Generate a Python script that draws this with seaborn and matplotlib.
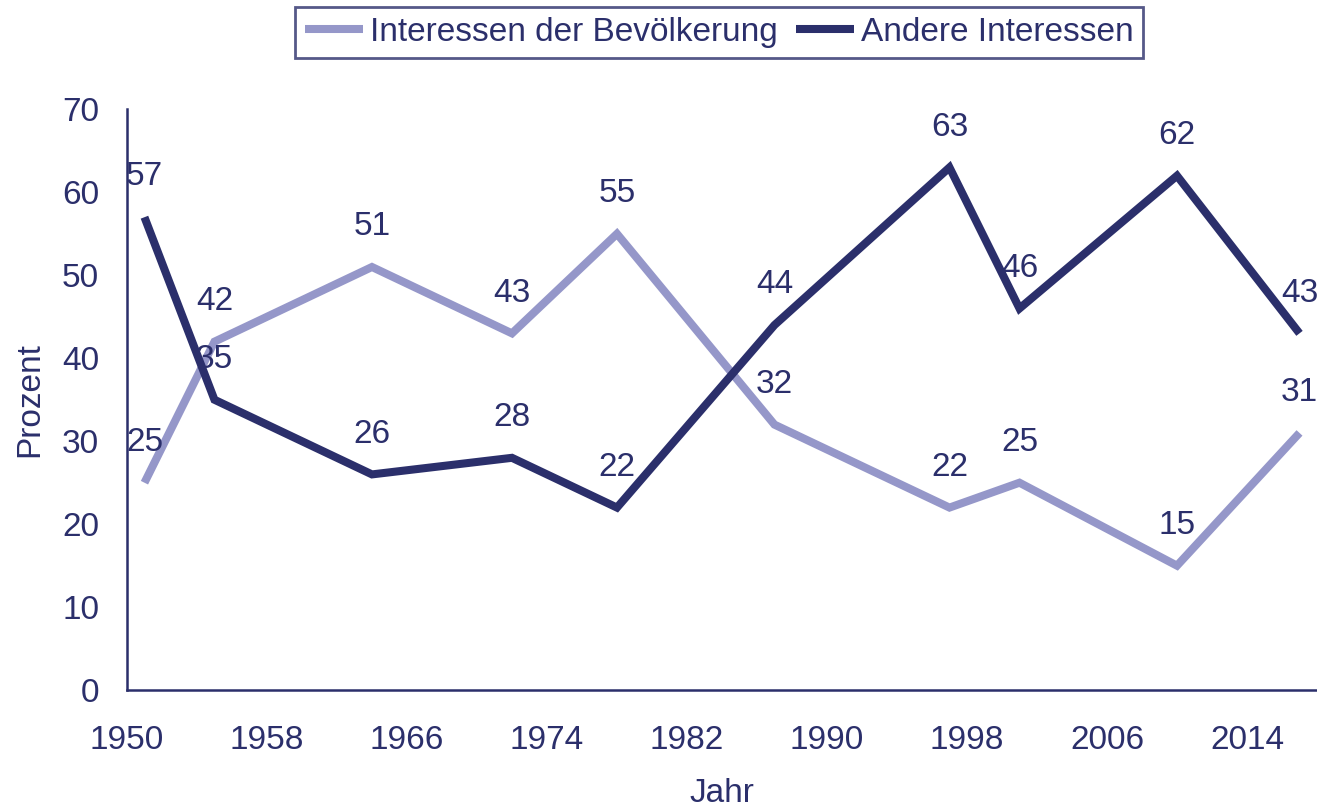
import pandas as pd
import matplotlib
matplotlib.use("Agg")
import matplotlib.pyplot as plt
import seaborn as sns

# Werte
years = [1951, 1955, 1964, 1972, 1978, 1987, 1997, 2001, 2010, 2017]
bevoelkerung = [25, 42, 51, 43, 55, 32, 22, 25, 15, 31]
andere = [57, 35, 26, 28, 22, 44, 63, 46, 62, 43]
series_names = ["Interessen der Bevölkerung", "Andere Interessen"]
x_ticks = [1950, 1958, 1966, 1974, 1982, 1990, 1998, 2006, 2014]
y_ticks = [0, 10, 20, 30, 40, 50, 60, 70]

navy = "#2b2f6b"
light = "#9597c9"
fs = 24

df = pd.DataFrame({
    "Jahr": years * 2,
    "Prozent": bevoelkerung + andere,
    "Serie": [series_names[0]] * len(years) + [series_names[1]] * len(years),
})

sns.set_style("white")
plt.rcParams["font.family"] = ["Liberation Sans", "DejaVu Sans"]
plt.rcParams["text.color"] = navy
plt.rcParams["axes.labelcolor"] = navy

fig = plt.figure(figsize=(13.17, 8.1), dpi=100)
ax = fig.add_axes([0.0964, 0.148, 0.9036, 0.717])

sns.lineplot(data=df, x="Jahr", y="Prozent", hue="Serie",
             palette={series_names[0]: light, series_names[1]: navy},
             linewidth=5.8, ax=ax, legend=True)
for line in ax.get_lines():
    line.set_solid_capstyle("butt")
    line.set_solid_joinstyle("miter")

# Beschriftung der Punkte
for vals in (bevoelkerung, andere):
    for x, y in zip(years, vals):
        ax.annotate(str(y), (x, y), xytext=(0, 29), textcoords="offset points",
                    ha="center", va="center", fontsize=fs, color=navy)

ax.set_xlim(1950, 2018)
ax.set_ylim(0, 70)
ax.set_xticks(x_ticks)
ax.set_yticks(y_ticks)
ax.tick_params(axis="both", colors=navy, labelsize=fs, length=9, width=1.8,
               direction="out")
ax.tick_params(axis="x", pad=16)
ax.tick_params(axis="y", pad=11)

for side in ["top", "right"]:
    ax.spines[side].set_visible(False)
for side in ["left", "bottom"]:
    ax.spines[side].set_color(navy)
    ax.spines[side].set_linewidth(1.8)

ax.set_xlabel("Jahr", fontsize=fs, labelpad=16)
ax.set_ylabel("Prozent", fontsize=fs, labelpad=12)

handles, labels = ax.get_legend_handles_labels()
leg = ax.legend(handles, labels, loc="center", bbox_to_anchor=(0.546, 0.96),
                bbox_transform=fig.transFigure, ncol=2, frameon=True,
                fancybox=False, fontsize=fs, handlelength=1.75, handletextpad=0.2,
                columnspacing=0.55, borderpad=0.3, borderaxespad=0)
leg.get_frame().set_edgecolor(navy)
leg.get_frame().set_linewidth(2)
for t in leg.get_texts():
    t.set_color(navy)

fig.savefig("out.png", dpi=100)
